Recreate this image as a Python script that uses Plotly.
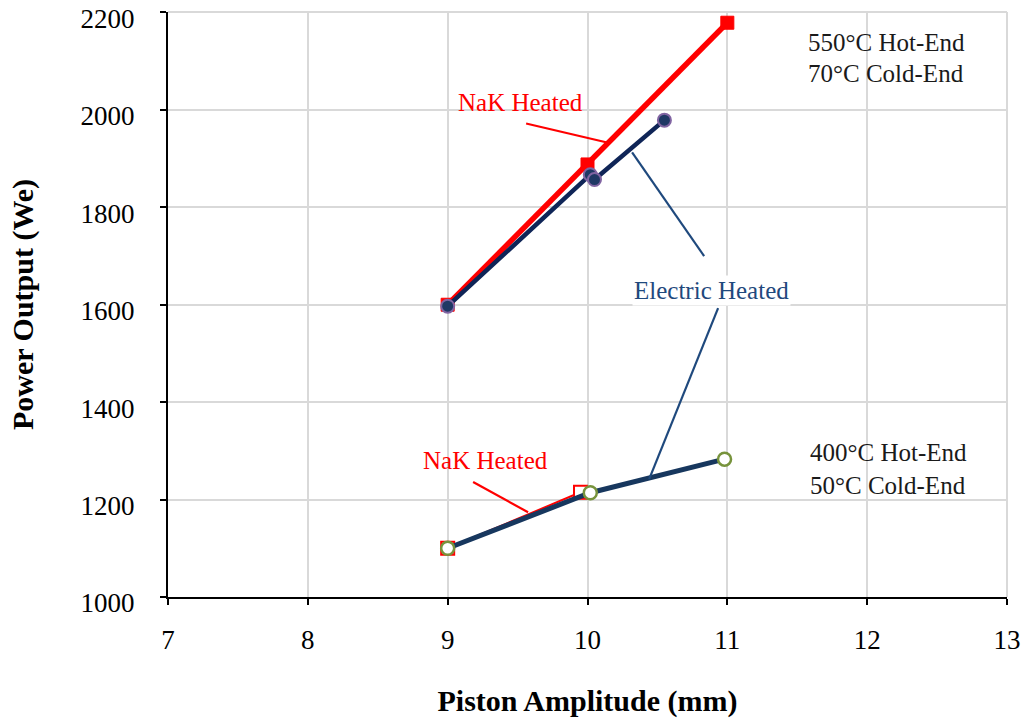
import plotly.graph_objects as go

# Piston amplitude (mm) vs. electrical power output (We)
nak_hi_x = [9.0, 10.0, 11.0]
nak_hi_y = [1600, 1888, 2179]
elec_hi_x = [9.0, 10.02, 10.05, 10.55]
elec_hi_y = [1597, 1867, 1857, 1979]

nak_lo_x = [9.0, 9.95]
nak_lo_y = [1100, 1215]
elec_lo_x = [9.0, 10.02, 10.98]
elec_lo_y = [1100, 1214, 1283]

x_ticks = [7, 8, 9, 10, 11, 12, 13]
y_ticks = [1000, 1200, 1400, 1600, 1800, 2000, 2200]

SERIF = "Liberation Serif, Times New Roman, serif"
RED = "#FF0000"
NAVY = "#0F2557"
NAVY_LO = "#17375E"
LABEL_BLUE = "#1F497D"
GRID = "#D9D9D9"

fig = go.Figure()

fig.add_trace(go.Scatter(
    x=nak_hi_x, y=nak_hi_y, mode="lines+markers",
    line=dict(color=RED, width=5.5),
    marker=dict(symbol="square", size=13, color=RED, line=dict(color=RED, width=1)),
))
fig.add_trace(go.Scatter(
    x=elec_hi_x, y=elec_hi_y, mode="lines+markers",
    line=dict(color=NAVY, width=4.5),
    marker=dict(symbol="circle", size=13, color="#1F3864", line=dict(color="#8064A2", width=2)),
))
fig.add_trace(go.Scatter(
    x=nak_lo_x, y=nak_lo_y, mode="lines+markers",
    line=dict(color=RED, width=2),
    marker=dict(symbol="square", size=13, color="white", line=dict(color=RED, width=2)),
))
fig.add_trace(go.Scatter(
    x=elec_lo_x, y=elec_lo_y, mode="lines+markers",
    line=dict(color=NAVY_LO, width=5),
    marker=dict(symbol="circle", size=13, color="white", line=dict(color="#77933C", width=2.5)),
))

# top and right frame edges in grid colour
fig.add_shape(type="line", xref="paper", yref="paper", x0=0, y0=1, x1=1, y1=1,
              line=dict(color=GRID, width=2), layer="below")
fig.add_shape(type="line", xref="paper", yref="paper", x0=1, y0=0, x1=1, y1=1,
              line=dict(color=GRID, width=2), layer="below")

# leader lines for the series labels
leaders = [
    ((9.561, 1972), (10.140, 1933), RED),
    ((9.182, 1236), (9.575, 1174), RED),
    ((10.319, 1913), (10.834, 1700), LABEL_BLUE),
    ((10.934, 1593), (10.441, 1242), LABEL_BLUE),
]
for (x0, y0), (x1, y1), c in leaders:
    fig.add_shape(type="line", x0=x0, y0=y0, x1=x1, y1=y1, xref="x", yref="y",
                  line=dict(color=c, width=2.2), layer="above")

def label(x, y, text, color, xanchor="center", bg=None):
    fig.add_annotation(x=x, y=y, text=text, showarrow=False, xref="x", yref="y",
                       xanchor=xanchor, yanchor="middle",
                       font=dict(family=SERIF, size=25, color=color),
                       bgcolor=bg)

label(9.518, 2015, "NaK Heated", RED)
label(9.268, 1281, "NaK Heated", RED)
label(10.884, 1630, "Electric Heated", LABEL_BLUE, bg="white")
label(11.56, 2138, "550°C Hot-End", "#1a1a1a", xanchor="left")
label(11.56, 2075, "70°C Cold-End", "#1a1a1a", xanchor="left")
label(11.575, 1297, "400°C Hot-End", "#1a1a1a", xanchor="left")
label(11.575, 1228, "50°C Cold-End", "#1a1a1a", xanchor="left")

fig.update_layout(
    width=1029, height=725,
    margin=dict(l=168, r=22, t=12, b=128),
    paper_bgcolor="white", plot_bgcolor="white",
    showlegend=False,
    font=dict(family=SERIF, size=27, color="black"),
    xaxis=dict(
        range=[7, 13], tickvals=x_ticks, ticktext=[str(v) for v in x_ticks],
        showgrid=True, gridcolor=GRID, gridwidth=2,
        showline=True, linecolor="black", linewidth=2,
        ticks="outside", ticklen=6, tickwidth=2, tickcolor="black",
        tickfont=dict(family=SERIF, size=27), zeroline=False,
        ticklabelstandoff=12, ticklabeloverflow="allow", automargin=False,
        title=dict(text="<b>Piston Amplitude (mm)</b>", font=dict(family=SERIF, size=30),
                   standoff=36),
    ),
    yaxis=dict(
        range=[1000, 2201], tickvals=y_ticks, ticktext=[str(v) for v in y_ticks],
        showgrid=True, gridcolor=GRID, gridwidth=2,
        showline=True, linecolor="black", linewidth=2,
        ticks="outside", ticklen=6, tickwidth=2, tickcolor="black",
        tickfont=dict(family=SERIF, size=27), zeroline=False,
        ticklabelstandoff=20, ticklabelshift=6,
        ticklabeloverflow="allow", automargin=False,
        title=dict(text="<b>Power Output (We)</b>", font=dict(family=SERIF, size=30),
                   standoff=38),
    ),
)

fig.write_html("out.html")
